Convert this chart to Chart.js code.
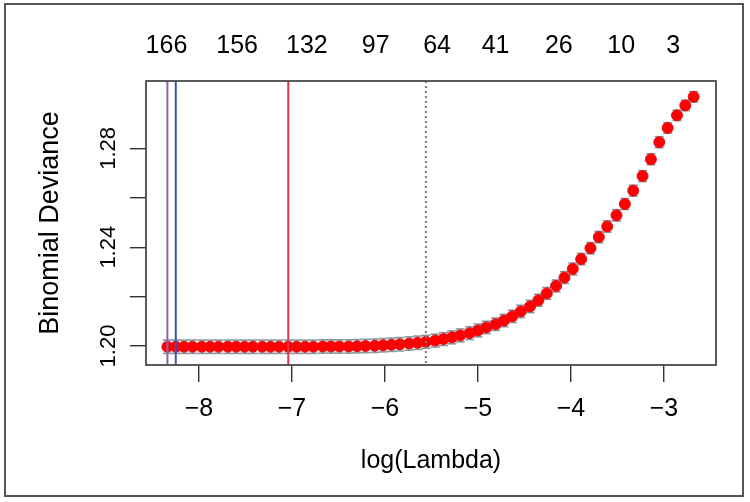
<!DOCTYPE html>
<html>
<head>
<meta charset="utf-8">
<script src="https://cdn.jsdelivr.net/npm/chart.js@4.4.1/dist/chart.umd.min.js"></script>
<style>
  body { margin: 0; background: #fff; }
  canvas { display: block; }
</style>
</head>
<body>
<canvas id="chartDeviance" width="750" height="502"></canvas>
<script>
// log(lambda) of each fit along the path
let logLambda = [
  -8.34, -8.25, -8.16, -8.07, -7.97, -7.88, -7.79, -7.69, -7.60, -7.51,
  -7.42, -7.32, -7.23, -7.14, -7.04, -6.95, -6.86, -6.77, -6.67, -6.58,
  -6.49, -6.39, -6.30, -6.21, -6.11, -6.02, -5.93, -5.84, -5.74, -5.65,
  -5.56, -5.46, -5.37, -5.28, -5.19, -5.09, -5.00, -4.91, -4.81, -4.72,
  -4.63, -4.54, -4.44, -4.35, -4.26, -4.16, -4.07, -3.98, -3.89, -3.79,
  -3.70, -3.61, -3.51, -3.42, -3.33, -3.23, -3.14, -3.05, -2.96, -2.86,
  -2.77, -2.68
]
// mean cross-validated binomial deviance
let deviance = [
  1.1997, 1.1997, 1.1997, 1.1997, 1.1997, 1.1997, 1.1997, 1.1997, 1.1997, 1.1997,
  1.1997, 1.1997, 1.1997, 1.1997, 1.1997, 1.1997, 1.1997, 1.1997, 1.1998, 1.1998,
  1.1998, 1.1998, 1.1999, 1.2000, 1.2001, 1.2003, 1.2005, 1.2007, 1.2010, 1.2013,
  1.2017, 1.2022, 1.2028, 1.2035, 1.2043, 1.2052, 1.2063, 1.2075, 1.2088, 1.2103,
  1.2120, 1.2140, 1.2160, 1.2185, 1.2213, 1.2243, 1.2277, 1.2312, 1.2352, 1.2396,
  1.2441, 1.2484, 1.2529, 1.2575, 1.2629, 1.2688, 1.2756, 1.2825, 1.2883, 1.2934,
  1.2974, 1.3009
]
// standard error of the deviance (error bars)
let devSE = [
  0.0027, 0.0027, 0.0027, 0.0027, 0.0027, 0.0027, 0.0027, 0.0027, 0.0027, 0.0027,
  0.0027, 0.0027, 0.0027, 0.0027, 0.0027, 0.0027, 0.0027, 0.0027, 0.0027, 0.0027,
  0.0027, 0.0027, 0.0027, 0.0027, 0.0027, 0.0027, 0.0027, 0.0027, 0.0027, 0.0027,
  0.0026, 0.0026, 0.0026, 0.0026, 0.0026, 0.0026, 0.0026, 0.0025, 0.0025, 0.0025,
  0.0025, 0.0025, 0.0025, 0.0024, 0.0024, 0.0024, 0.0024, 0.0024, 0.0023, 0.0023,
  0.0023, 0.0023, 0.0023, 0.0022, 0.0022, 0.0022, 0.0022, 0.0022, 0.0021, 0.0021,
  0.0021, 0.0021
]

let xTickVals = [-8, -7, -6, -5, -4, -3]
let yTickVals = [1.20, 1.22, 1.24, 1.26, 1.28]
let yLabelVals = [1.20, 1.24, 1.28]

// number of non-zero coefficients, shown on the top axis
let topCounts = ["166", "156", "132", "97", "64", "41", "26", "10", "3"]
let topCountPos = [-8.35, -7.59, -6.84, -6.10, -5.44, -4.81, -4.13, -3.46, -2.90]

// solid reference lines and the dotted lambda line
let refLinePos = [-8.34, -8.25, -7.04]
let refLineColors = ["#8c63b6", "#3d4fc2", "#e2354b"]
let dottedLinePos = [-5.56]

const FONT = "'Liberation Sans', Arial, Helvetica, sans-serif"

function minusLabel(v) {
  return v < 0 ? "\u2212" + Math.abs(v) : "" + v
}

function drawLine(ctx, x1, y1, x2, y2) {
  ctx.beginPath()
  ctx.moveTo(x1, y1)
  ctx.lineTo(x2, y2)
  ctx.stroke()
}

const errorBars = {
  id: "errorBars",
  beforeDatasetsDraw(chart) {
    let ctx = chart.ctx
    let sx = chart.scales.x
    let sy = chart.scales.y
    ctx.save()
    logLambda.forEach((v, i) => {
      let px = sx.getPixelForValue(v)
      let top = sy.getPixelForValue(deviance[i] + devSE[i])
      let bot = sy.getPixelForValue(deviance[i] - devSE[i])
      ctx.strokeStyle = "#a9d9de"
      ctx.lineWidth = 2.5
      drawLine(ctx, px, top, px, bot)
      ctx.strokeStyle = "#8a989a"
      ctx.lineWidth = 1.6
      drawLine(ctx, px - 4.5, top, px + 4.5, top)
      drawLine(ctx, px - 4.5, bot, px + 4.5, bot)
    })
    ctx.restore()
  },
}

const refLines = {
  id: "refLines",
  afterDatasetsDraw(chart) {
    let ctx = chart.ctx
    let area = chart.chartArea
    let sx = chart.scales.x
    ctx.save()
    ctx.lineWidth = 2
    refLinePos.forEach((v, i) => {
      let px = sx.getPixelForValue(v)
      ctx.strokeStyle = refLineColors[i]
      drawLine(ctx, px, area.top, px, area.bottom)
    })
    ctx.strokeStyle = "#7a7a7a"
    ctx.lineWidth = 2
    ctx.setLineDash([2, 3])
    dottedLinePos.forEach((v) => {
      let px = sx.getPixelForValue(v)
      drawLine(ctx, px, area.top, px, area.bottom)
    })
    ctx.restore()
  },
}

const frames = {
  id: "frames",
  afterDraw(chart) {
    let ctx = chart.ctx
    let a = chart.chartArea
    ctx.save()
    ctx.strokeStyle = "#4a4a4a"
    ctx.lineWidth = 1.8
    ctx.strokeRect(a.left, a.top, a.right - a.left, a.bottom - a.top)
    ctx.strokeStyle = "#555"
    ctx.lineWidth = 2
    ctx.strokeRect(5, 4, 738, 492)
    ctx.restore()
  },
}

let config = {
  type: "scatter",
  data: {
    datasets: [
      {
        data: logLambda.map((v, i) => ({ x: v, y: deviance[i] })),
        backgroundColor: "#ff0000",
        borderColor: "#e3101c",
        borderWidth: 1,
        pointRadius: 5.5,
        pointHoverRadius: 5.5,
      },
    ],
  },
  options: {
    responsive: false,
    animation: false,
    devicePixelRatio: 1,
    layout: { padding: { left: 0, right: 34, top: 0, bottom: 0 } },
    plugins: { legend: { display: false }, tooltip: { enabled: false } },
    scales: {
      x: {
        type: "linear",
        position: "bottom",
        min: -8.57,
        max: -2.44,
        afterBuildTicks: (s) => { s.ticks = xTickVals.map((v) => ({ value: v })) },
        afterFit: (s) => { s.height = 137 },
        border: { display: false },
        grid: { drawOnChartArea: false, tickLength: 17, color: "#333", lineWidth: 1.4 },
        ticks: {
          autoSkip: false,
          maxRotation: 0,
          padding: 12,
          color: "#000",
          font: { family: FONT, size: 25 },
          callback: (v) => minusLabel(v),
        },
        title: {
          display: true,
          text: "log(Lambda)",
          color: "#000",
          font: { family: FONT, size: 25 },
          padding: { top: 0, bottom: 26 },
        },
      },
      xTop: {
        type: "linear",
        position: "top",
        min: -8.57,
        max: -2.44,
        afterBuildTicks: (s) => { s.ticks = topCountPos.map((v) => ({ value: v })) },
        afterFit: (s) => { s.height = 81 },
        border: { display: false },
        grid: { display: false, drawTicks: false },
        ticks: {
          autoSkip: false,
          maxRotation: 0,
          padding: 20,
          color: "#000",
          font: { family: FONT, size: 25 },
          callback: (v, i) => topCounts[i],
        },
      },
      y: {
        type: "linear",
        min: 1.1923,
        max: 1.3073,
        afterBuildTicks: (s) => { s.ticks = yTickVals.map((v) => ({ value: v })) },
        afterFit: (s) => { s.width = 146 },
        border: { display: false },
        grid: { drawOnChartArea: false, tickLength: 16, color: "#333", lineWidth: 1.4 },
        ticks: {
          autoSkip: false,
          minRotation: 90,
          maxRotation: 90,
          crossAlign: "center",
          padding: 0,
          color: "#000",
          font: { family: FONT, size: 22 },
          callback: (v) => yLabelVals.some((l) => Math.abs(l - v) < 1e-6) ? v.toFixed(2) : "",
        },
        title: {
          display: true,
          text: "Binomial Deviance",
          color: "#000",
          font: { family: FONT, size: 27 },
          padding: { top: 34, bottom: 0 },
        },
      },
    },
  },
  plugins: [errorBars, refLines, frames],
}

new Chart(document.getElementById("chartDeviance"), config)
</script>
</body>
</html>
